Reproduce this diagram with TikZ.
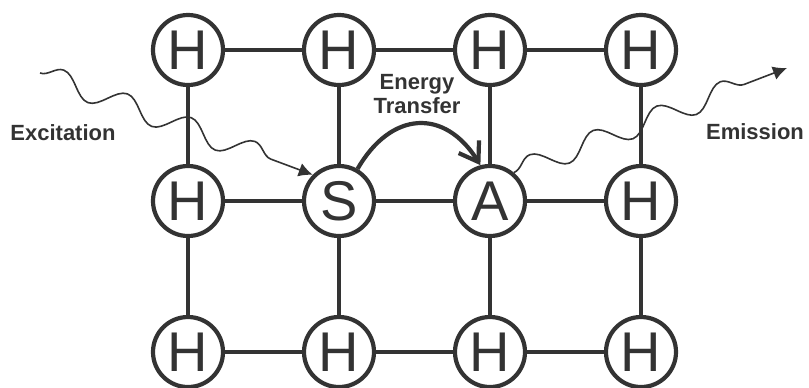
\documentclass[tikz,border=0pt]{standalone}
\usepackage{fontspec}
\setmainfont{Liberation Sans}
\usetikzlibrary{positioning,arrows.meta,decorations.pathmorphing}
\definecolor{ink}{HTML}{333333}
\begin{document}
\begin{tikzpicture}[x=0.5pt,y=-0.5pt,node distance=75.5pt,
  atom/.style={draw=ink,text=ink,circle,line width=2.1pt,minimum size=35pt,inner sep=0pt,
    font=\fontsize{28}{30}\selectfont},
  bond/.style={draw=ink,line width=2.1pt},
  wave/.style={draw=ink,line width=0.8pt,decorate,
    decoration={snake,amplitude=5.5pt,segment length=34pt,post length=6pt},
    -{Latex[length=7pt,width=7pt]}},
  label/.style={text=ink,font=\fontsize{11}{12}\selectfont\bfseries,align=center}]
\useasboundingbox (0,0) rectangle (809,387);
\node[atom] (H11) at (188,50) {H};
\node[atom,right of=H11] (H12) {H};
\draw[bond] (H11) -- (H12);
\node[atom,right of=H12] (H13) {H};
\draw[bond] (H12) -- (H13);
\node[atom,right of=H13] (H14) {H};
\draw[bond] (H13) -- (H14);
\node[atom,below of=H11] (H21) {H};
\draw[bond] (H11) -- (H21);
\node[atom,right of=H21] (S) {S};
\draw[bond] (H21) -- (S);
\draw[bond] (H12) -- (S);
\node[atom,right of=S] (A) {A};
\draw[bond] (S) -- (A);
\draw[bond] (H13) -- (A);
\node[atom,right of=A] (H24) {H};
\draw[bond] (A) -- (H24);
\draw[bond] (H14) -- (H24);
\node[atom,below of=H21] (H31) {H};
\draw[bond] (H21) -- (H31);
\node[atom,right of=H31] (H32) {H};
\draw[bond] (H31) -- (H32);
\draw[bond] (S) -- (H32);
\node[atom,right of=H32] (H33) {H};
\draw[bond] (H32) -- (H33);
\draw[bond] (A) -- (H33);
\node[atom,right of=H33] (H34) {H};
\draw[bond] (H33) -- (H34);
\draw[bond] (H24) -- (H34);

% energy transfer from S to A
\draw[bond,-{Straight Barb[length=9pt,width=12pt,line cap=butt]}] (S.60) to[out=60,in=122,looseness=1.4] (A.105);
\node[label] (transfer) at (417,94) {Energy\\Transfer};

% excitation and emission
\coordinate (excin) at (40,73);
\draw[wave] (excin) -- (S.135);
\node[label] (excitation) at (63,133) {Excitation};
\coordinate (emout) at (787,68);
\draw[wave] (A.50) -- (emout);
\node[label] (emission) at (755,132) {Emission};
\end{tikzpicture}
\end{document}
